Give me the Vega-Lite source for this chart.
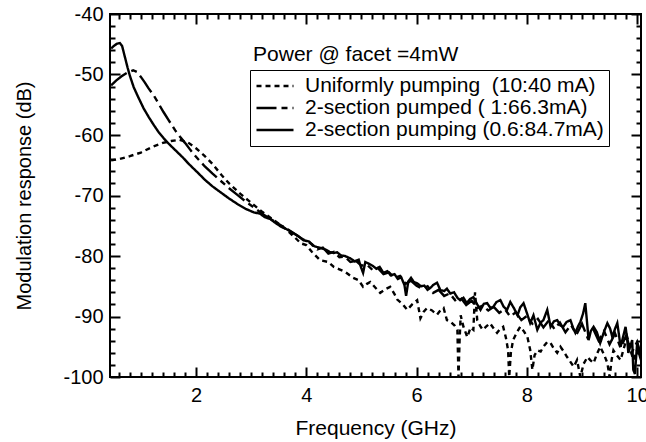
{
 "$schema": "https://vega.github.io/schema/vega-lite/v6.json",
 "width": 531,
 "height": 363,
 "autosize": {"type": "none"},
 "padding": {"left": 110, "top": 14, "right": 5, "bottom": 65},
 "background": "white",
 "config": {
  "view": {"stroke": "black", "strokeWidth": 2},
  "font": "Liberation Sans",
  "axis": {"domain": false, "grid": false, "labelColor": "black", "labelFont": "Liberation Sans", "labelFontSize": 20, "titleFont": "Liberation Sans", "titleFontSize": 20, "titleFontWeight": "normal", "titleColor": "black", "labelFlush": false, "labelOverlap": false, "labelBound": false}
 },
 "datasets": {
  "d": [
   {"s":"U","f":0.46,"r":-64.2},{"s":"U","f":0.6,"r":-64.0},{"s":"U","f":0.8,"r":-63.5},{"s":"U","f":1.0,"r":-62.9},{"s":"U","f":1.2,"r":-62.0},{"s":"U","f":1.4,"r":-61.3},{"s":"U","f":1.55,"r":-61.0},{"s":"U","f":1.7,"r":-60.8},{"s":"U","f":1.85,"r":-61.2},{"s":"U","f":2.0,"r":-62.2},{"s":"U","f":2.15,"r":-63.4},{"s":"U","f":2.3,"r":-64.8},{"s":"U","f":2.47,"r":-66.7},{"s":"U","f":2.6,"r":-68.0},{"s":"U","f":2.8,"r":-69.7},{"s":"U","f":3.0,"r":-71.2},{"s":"U","f":3.2,"r":-72.7},{"s":"U","f":3.4,"r":-74.0},{"s":"U","f":3.6,"r":-75.3},{"s":"U","f":3.8,"r":-77.0},{"s":"U","f":3.9,"r":-77.9},{"s":"U","f":4.0,"r":-78.2},{"s":"U","f":4.1,"r":-79.3},{"s":"U","f":4.25,"r":-80.7},{"s":"U","f":4.4,"r":-81.0},{"s":"U","f":4.5,"r":-81.8},{"s":"U","f":4.6,"r":-82.2},{"s":"U","f":4.7,"r":-82.6},{"s":"U","f":4.85,"r":-83.6},{"s":"U","f":4.95,"r":-84.0},{"s":"U","f":5.03,"r":-85.1},{"s":"U","f":5.1,"r":-84.6},{"s":"U","f":5.16,"r":-84.3},{"s":"U","f":5.25,"r":-85.2},{"s":"U","f":5.34,"r":-86.1},{"s":"U","f":5.43,"r":-85.5},{"s":"U","f":5.52,"r":-85.1},{"s":"U","f":5.6,"r":-86.3},{"s":"U","f":5.65,"r":-87.2},{"s":"U","f":5.75,"r":-88.0},{"s":"U","f":5.83,"r":-88.9},{"s":"U","f":5.92,"r":-88.0},{"s":"U","f":6.01,"r":-87.3},{"s":"U","f":6.07,"r":-90.3},{"s":"U","f":6.13,"r":-89.2},{"s":"U","f":6.19,"r":-88.6},{"s":"U","f":6.28,"r":-89.0},{"s":"U","f":6.37,"r":-89.7},{"s":"U","f":6.43,"r":-89.0},{"s":"U","f":6.49,"r":-88.6},{"s":"U","f":6.55,"r":-90.6},{"s":"U","f":6.62,"r":-90.9},{"s":"U","f":6.69,"r":-91.5},{"s":"U","f":6.74,"r":-92.2},{"s":"U","f":6.76,"r":-100},{"s":"U","f":6.78,"r":-94.0},{"s":"U","f":6.8,"r":-89.8},{"s":"U","f":6.85,"r":-91.7},{"s":"U","f":6.92,"r":-93.4},{"s":"U","f":6.98,"r":-91.8},{"s":"U","f":7.03,"r":-92.2},{"s":"U","f":7.06,"r":-86.0},{"s":"U","f":7.1,"r":-90.6},{"s":"U","f":7.15,"r":-91.5},{"s":"U","f":7.2,"r":-92.2},{"s":"U","f":7.27,"r":-91.6},{"s":"U","f":7.33,"r":-91.1},{"s":"U","f":7.4,"r":-92.0},{"s":"U","f":7.46,"r":-92.7},{"s":"U","f":7.52,"r":-92.0},{"s":"U","f":7.57,"r":-91.7},{"s":"U","f":7.62,"r":-93.5},{"s":"U","f":7.66,"r":-95.6},{"s":"U","f":7.68,"r":-100},{"s":"U","f":7.71,"r":-96.0},{"s":"U","f":7.75,"r":-93.9},{"s":"U","f":7.82,"r":-92.6},{"s":"U","f":7.88,"r":-91.7},{"s":"U","f":7.95,"r":-92.5},{"s":"U","f":8.01,"r":-93.4},{"s":"U","f":8.06,"r":-95.5},{"s":"U","f":8.1,"r":-98.8},{"s":"U","f":8.14,"r":-96.4},{"s":"U","f":8.19,"r":-95.6},{"s":"U","f":8.25,"r":-95.8},{"s":"U","f":8.3,"r":-95.0},{"s":"U","f":8.37,"r":-94.2},{"s":"U","f":8.43,"r":-94.4},{"s":"U","f":8.49,"r":-95.3},{"s":"U","f":8.55,"r":-96.0},{"s":"U","f":8.61,"r":-95.0},{"s":"U","f":8.67,"r":-95.8},{"s":"U","f":8.73,"r":-96.7},{"s":"U","f":8.79,"r":-97.5},{"s":"U","f":8.85,"r":-98.3},{"s":"U","f":8.91,"r":-97.2},{"s":"U","f":8.97,"r":-100},{"s":"U","f":9.03,"r":-97.8},{"s":"U","f":9.1,"r":-96.7},{"s":"U","f":9.15,"r":-97.2},{"s":"U","f":9.21,"r":-97.7},{"s":"U","f":9.27,"r":-96.2},{"s":"U","f":9.33,"r":-95.0},{"s":"U","f":9.4,"r":-96.3},{"s":"U","f":9.46,"r":-97.7},{"s":"U","f":9.5,"r":-100},{"s":"U","f":9.54,"r":-97.0},{"s":"U","f":9.57,"r":-95.6},{"s":"U","f":9.63,"r":-96.4},{"s":"U","f":9.7,"r":-97.2},{"s":"U","f":9.76,"r":-95.2},{"s":"U","f":9.82,"r":-93.4},{"s":"U","f":9.88,"r":-95.5},{"s":"U","f":9.93,"r":-97.2},{"s":"U","f":9.98,"r":-96.0},{"s":"U","f":10.02,"r":-95.0},{"s":"U","f":10.07,"r":-96.5},
   {"s":"P","f":0.46,"r":-51.8},{"s":"P","f":0.55,"r":-51.0},{"s":"P","f":0.65,"r":-50.3},{"s":"P","f":0.75,"r":-49.7},{"s":"P","f":0.86,"r":-49.3},{"s":"P","f":0.93,"r":-49.6},{"s":"P","f":1.0,"r":-50.4},{"s":"P","f":1.07,"r":-51.3},{"s":"P","f":1.14,"r":-52.3},{"s":"P","f":1.23,"r":-53.4},{"s":"P","f":1.32,"r":-54.8},{"s":"P","f":1.41,"r":-56.2},{"s":"P","f":1.5,"r":-57.5},{"s":"P","f":1.62,"r":-59.2},{"s":"P","f":1.71,"r":-60.3},{"s":"P","f":1.8,"r":-61.3},{"s":"P","f":1.9,"r":-62.5},{"s":"P","f":1.98,"r":-63.4},{"s":"P","f":2.07,"r":-64.3},{"s":"P","f":2.16,"r":-65.2},{"s":"P","f":2.3,"r":-66.4},{"s":"P","f":2.45,"r":-67.6},{"s":"P","f":2.6,"r":-68.8},{"s":"P","f":2.75,"r":-69.9},{"s":"P","f":2.9,"r":-71.0},{"s":"P","f":3.05,"r":-72.0},{"s":"P","f":3.2,"r":-73.0},{"s":"P","f":3.35,"r":-73.9},{"s":"P","f":3.5,"r":-74.7},{"s":"P","f":3.65,"r":-75.5},{"s":"P","f":3.8,"r":-76.4},{"s":"P","f":3.95,"r":-77.3},{"s":"P","f":4.1,"r":-78.0},{"s":"P","f":4.2,"r":-78.9},{"s":"P","f":4.3,"r":-78.6},{"s":"P","f":4.4,"r":-79.6},{"s":"P","f":4.5,"r":-79.3},{"s":"P","f":4.6,"r":-80.2},{"s":"P","f":4.7,"r":-80.1},{"s":"P","f":4.8,"r":-81.0},{"s":"P","f":4.9,"r":-80.8},{"s":"P","f":5.0,"r":-81.6},{"s":"P","f":5.1,"r":-81.4},{"s":"P","f":5.2,"r":-82.3},{"s":"P","f":5.3,"r":-82.0},{"s":"P","f":5.4,"r":-83.0},{"s":"P","f":5.5,"r":-82.7},{"s":"P","f":5.6,"r":-83.6},{"s":"P","f":5.7,"r":-83.3},{"s":"P","f":5.8,"r":-84.6},{"s":"P","f":5.9,"r":-84.1},{"s":"P","f":6.0,"r":-84.9},{"s":"P","f":6.1,"r":-85.4},{"s":"P","f":6.2,"r":-85.0},{"s":"P","f":6.3,"r":-86.1},{"s":"P","f":6.4,"r":-85.6},{"s":"P","f":6.5,"r":-86.6},{"s":"P","f":6.6,"r":-86.2},{"s":"P","f":6.7,"r":-87.3},{"s":"P","f":6.8,"r":-86.9},{"s":"P","f":6.9,"r":-88.1},{"s":"P","f":7.0,"r":-87.4},{"s":"P","f":7.1,"r":-88.6},{"s":"P","f":7.2,"r":-88.2},{"s":"P","f":7.3,"r":-89.0},{"s":"P","f":7.4,"r":-88.4},{"s":"P","f":7.5,"r":-89.4},{"s":"P","f":7.6,"r":-88.8},{"s":"P","f":7.7,"r":-90.0},{"s":"P","f":7.8,"r":-89.3},{"s":"P","f":7.9,"r":-90.6},{"s":"P","f":8.0,"r":-89.9},{"s":"P","f":8.1,"r":-91.2},{"s":"P","f":8.2,"r":-90.4},{"s":"P","f":8.3,"r":-91.8},{"s":"P","f":8.4,"r":-90.6},{"s":"P","f":8.5,"r":-92.1},{"s":"P","f":8.6,"r":-91.0},{"s":"P","f":8.7,"r":-92.6},{"s":"P","f":8.8,"r":-91.4},{"s":"P","f":8.9,"r":-93.0},{"s":"P","f":9.0,"r":-91.2},{"s":"P","f":9.1,"r":-93.5},{"s":"P","f":9.2,"r":-92.0},{"s":"P","f":9.3,"r":-94.0},{"s":"P","f":9.4,"r":-92.4},{"s":"P","f":9.5,"r":-94.6},{"s":"P","f":9.6,"r":-92.8},{"s":"P","f":9.7,"r":-95.2},{"s":"P","f":9.8,"r":-93.2},{"s":"P","f":9.9,"r":-96.0},{"s":"P","f":10.0,"r":-94.2},{"s":"P","f":10.07,"r":-96.5},
   {"s":"S","f":0.46,"r":-45.7},{"s":"S","f":0.52,"r":-45.2},{"s":"S","f":0.57,"r":-44.9},{"s":"S","f":0.62,"r":-44.8},{"s":"S","f":0.66,"r":-45.3},{"s":"S","f":0.71,"r":-47.1},{"s":"S","f":0.76,"r":-48.9},{"s":"S","f":0.8,"r":-50.2},{"s":"S","f":0.87,"r":-52.1},{"s":"S","f":0.95,"r":-53.7},{"s":"S","f":1.05,"r":-55.6},{"s":"S","f":1.14,"r":-57.0},{"s":"S","f":1.23,"r":-58.3},{"s":"S","f":1.32,"r":-59.5},{"s":"S","f":1.41,"r":-60.5},{"s":"S","f":1.5,"r":-61.4},{"s":"S","f":1.59,"r":-62.2},{"s":"S","f":1.68,"r":-63.0},{"s":"S","f":1.77,"r":-63.8},{"s":"S","f":1.86,"r":-64.7},{"s":"S","f":1.95,"r":-65.5},{"s":"S","f":2.04,"r":-66.3},{"s":"S","f":2.16,"r":-67.4},{"s":"S","f":2.3,"r":-68.5},{"s":"S","f":2.45,"r":-69.5},{"s":"S","f":2.6,"r":-70.5},{"s":"S","f":2.75,"r":-71.4},{"s":"S","f":2.9,"r":-72.2},{"s":"S","f":3.05,"r":-72.8},{"s":"S","f":3.16,"r":-73.0},{"s":"S","f":3.25,"r":-73.6},{"s":"S","f":3.35,"r":-73.9},{"s":"S","f":3.45,"r":-74.6},{"s":"S","f":3.55,"r":-75.2},{"s":"S","f":3.65,"r":-75.6},{"s":"S","f":3.76,"r":-76.2},{"s":"S","f":3.85,"r":-76.7},{"s":"S","f":3.95,"r":-77.4},{"s":"S","f":4.05,"r":-77.6},{"s":"S","f":4.12,"r":-78.3},{"s":"S","f":4.19,"r":-78.5},{"s":"S","f":4.27,"r":-78.7},{"s":"S","f":4.34,"r":-78.9},{"s":"S","f":4.42,"r":-79.3},{"s":"S","f":4.49,"r":-79.5},{"s":"S","f":4.56,"r":-79.4},{"s":"S","f":4.63,"r":-79.9},{"s":"S","f":4.7,"r":-80.0},{"s":"S","f":4.8,"r":-80.4},{"s":"S","f":4.88,"r":-80.9},{"s":"S","f":4.95,"r":-80.6},{"s":"S","f":4.99,"r":-81.8},{"s":"S","f":5.03,"r":-82.8},{"s":"S","f":5.07,"r":-81.0},{"s":"S","f":5.14,"r":-81.3},{"s":"S","f":5.2,"r":-81.6},{"s":"S","f":5.27,"r":-82.1},{"s":"S","f":5.33,"r":-81.8},{"s":"S","f":5.4,"r":-82.8},{"s":"S","f":5.47,"r":-82.5},{"s":"S","f":5.53,"r":-83.2},{"s":"S","f":5.6,"r":-83.0},{"s":"S","f":5.66,"r":-83.8},{"s":"S","f":5.72,"r":-83.5},{"s":"S","f":5.78,"r":-84.8},{"s":"S","f":5.81,"r":-86.6},{"s":"S","f":5.85,"r":-84.2},{"s":"S","f":5.9,"r":-83.6},{"s":"S","f":5.95,"r":-84.3},{"s":"S","f":6.01,"r":-84.5},{"s":"S","f":6.08,"r":-85.0},{"s":"S","f":6.14,"r":-84.9},{"s":"S","f":6.2,"r":-85.6},{"s":"S","f":6.26,"r":-85.2},{"s":"S","f":6.3,"r":-84.8},{"s":"S","f":6.37,"r":-84.4},{"s":"S","f":6.43,"r":-85.6},{"s":"S","f":6.5,"r":-85.8},{"s":"S","f":6.55,"r":-85.4},{"s":"S","f":6.61,"r":-86.2},{"s":"S","f":6.68,"r":-86.0},{"s":"S","f":6.74,"r":-86.9},{"s":"S","f":6.79,"r":-87.3},{"s":"S","f":6.85,"r":-86.9},{"s":"S","f":6.91,"r":-87.8},{"s":"S","f":6.97,"r":-87.1},{"s":"S","f":7.03,"r":-86.8},{"s":"S","f":7.1,"r":-88.0},{"s":"S","f":7.16,"r":-88.9},{"s":"S","f":7.22,"r":-87.9},{"s":"S","f":7.28,"r":-87.8},{"s":"S","f":7.34,"r":-88.6},{"s":"S","f":7.39,"r":-88.4},{"s":"S","f":7.45,"r":-87.6},{"s":"S","f":7.52,"r":-87.3},{"s":"S","f":7.58,"r":-88.4},{"s":"S","f":7.64,"r":-88.9},{"s":"S","f":7.7,"r":-87.6},{"s":"S","f":7.77,"r":-88.7},{"s":"S","f":7.83,"r":-89.8},{"s":"S","f":7.88,"r":-88.5},{"s":"S","f":7.94,"r":-87.8},{"s":"S","f":8.0,"r":-89.4},{"s":"S","f":8.06,"r":-91.1},{"s":"S","f":8.12,"r":-89.8},{"s":"S","f":8.19,"r":-92.2},{"s":"S","f":8.25,"r":-91.0},{"s":"S","f":8.3,"r":-90.6},{"s":"S","f":8.37,"r":-88.9},{"s":"S","f":8.43,"r":-91.7},{"s":"S","f":8.49,"r":-90.8},{"s":"S","f":8.55,"r":-90.6},{"s":"S","f":8.61,"r":-91.5},{"s":"S","f":8.66,"r":-91.7},{"s":"S","f":8.72,"r":-90.9},{"s":"S","f":8.79,"r":-90.6},{"s":"S","f":8.84,"r":-91.9},{"s":"S","f":8.88,"r":-92.7},{"s":"S","f":8.93,"r":-91.6},{"s":"S","f":8.97,"r":-90.9},{"s":"S","f":9.02,"r":-89.5},{"s":"S","f":9.06,"r":-87.8},{"s":"S","f":9.09,"r":-90.8},{"s":"S","f":9.12,"r":-93.9},{"s":"S","f":9.16,"r":-92.4},{"s":"S","f":9.21,"r":-91.7},{"s":"S","f":9.27,"r":-92.6},{"s":"S","f":9.33,"r":-94.4},{"s":"S","f":9.4,"r":-92.5},{"s":"S","f":9.46,"r":-91.1},{"s":"S","f":9.51,"r":-92.0},{"s":"S","f":9.55,"r":-93.4},{"s":"S","f":9.6,"r":-92.0},{"s":"S","f":9.64,"r":-91.1},{"s":"S","f":9.67,"r":-93.0},{"s":"S","f":9.7,"r":-95.0},{"s":"S","f":9.75,"r":-93.2},{"s":"S","f":9.79,"r":-91.7},{"s":"S","f":9.82,"r":-93.8},{"s":"S","f":9.84,"r":-96.0},{"s":"S","f":9.88,"r":-94.8},{"s":"S","f":9.91,"r":-93.9},{"s":"S","f":9.93,"r":-98.8},{"s":"S","f":9.96,"r":-99.5},{"s":"S","f":10.0,"r":-94.4},{"s":"S","f":10.03,"r":-96.0},{"s":"S","f":10.07,"r":-97.2}
  ]
 },
 "data": {"name": "d"},
 "layer": [
  {
   "mark": {"type": "line", "color": "black", "strokeWidth": 2.4, "clip": true},
   "encoding": {
    "x": {"field": "f", "type": "quantitative", "scale": {"domain": [0.44, 10.07], "nice": false, "zero": false},
          "axis": {"orient": "bottom", "values": [0.6,0.8,1,1.2,1.4,1.6,1.8,2,2.2,2.4,2.6,2.8,3,3.2,3.4,3.6,3.8,4,4.2,4.4,4.6,4.8,5,5.2,5.4,5.6,5.8,6,6.2,6.4,6.6,6.8,7,7.2,7.4,7.6,7.8,8,8.2,8.4,8.6,8.8,9,9.2,9.4,9.6,9.8,10],
                   "ticks": true, "tickColor": "#000000", "tickWidth": 2, "tickOpacity": 1,
                   "tickSize": {"condition": {"test": "datum.value % 2 == 0", "value": -10}, "value": -5},
                   "labelPadding": 18, "labelExpr": "datum.value % 2 == 0 ? datum.value + '' : ''",
                   "title": "Frequency (GHz)", "titleFontSize": 21, "titlePadding": 7}},
    "y": {"field": "r", "type": "quantitative", "scale": {"domain": [-100, -40], "nice": false, "zero": false},
          "axis": {"orient": "left", "values": [-100,-98,-96,-94,-92,-90,-88,-86,-84,-82,-80,-78,-76,-74,-72,-70,-68,-66,-64,-62,-60,-58,-56,-54,-52,-50,-48,-46,-44,-42,-40],
                   "ticks": true, "tickColor": "#000000", "tickWidth": 2, "tickOpacity": 1,
                   "tickSize": {"condition": {"test": "datum.value % 10 == 0", "value": -10}, "value": -5},
                   "labelPadding": 17, "labelExpr": "datum.value % 10 == 0 ? datum.value + '' : ''",
                   "title": "Modulation response (dB)", "titlePadding": 28}},
    "strokeDash": {"field": "s", "type": "nominal",
                   "scale": {"domain": ["U", "P", "S"], "range": [[5, 4], [20, 5, 6, 5], [1, 0]]},
                   "legend": {"orient": "none", "legendX": 140, "legendY": 56, "title": null, "strokeColor": "black", "fillColor": "white", "padding": 5, "symbolType": "stroke", "symbolSize": 1369, "symbolStrokeWidth": 2.4, "symbolStrokeColor": "black", "clipHeight": 22, "rowPadding": 0, "labelFontSize": 21, "labelFont": "Liberation Sans", "labelColor": "black", "labelOffset": 10, "labelLimit": 500,
                              "labelExpr": "datum.value == 'U' ? '\u00a0Uniformly pumping\u00a0 (10:40 mA)' : datum.value == 'P' ? '2-section pumped ( 1:66.3mA)' : '2-section pumping (0.6:84.7mA)'"}}
   }
  },
  {
   "mark": {"type": "point", "opacity": 0},
   "encoding": {
    "x": {"field": "f", "type": "quantitative", "scale": {"domain": [0.44, 10.07], "nice": false, "zero": false},
          "axis": {"orient": "top", "values": [0.6,0.8,1,1.2,1.4,1.6,1.8,2,2.2,2.4,2.6,2.8,3,3.2,3.4,3.6,3.8,4,4.2,4.4,4.6,4.8,5,5.2,5.4,5.6,5.8,6,6.2,6.4,6.6,6.8,7,7.2,7.4,7.6,7.8,8,8.2,8.4,8.6,8.8,9,9.2,9.4,9.6,9.8,10],
                   "ticks": true, "tickColor": "#000000", "tickWidth": 2, "tickOpacity": 1,
                   "tickSize": {"condition": {"test": "datum.value % 2 == 0", "value": -10}, "value": -5}, "labels": false, "title": null}},
    "y": {"field": "r", "type": "quantitative", "scale": {"domain": [-100, -40], "nice": false, "zero": false},
          "axis": {"orient": "right", "values": [-100,-98,-96,-94,-92,-90,-88,-86,-84,-82,-80,-78,-76,-74,-72,-70,-68,-66,-64,-62,-60,-58,-56,-54,-52,-50,-48,-46,-44,-42,-40],
                   "ticks": true, "tickColor": "#000000", "tickWidth": 2, "tickOpacity": 1,
                   "tickSize": {"condition": {"test": "datum.value % 10 == 0", "value": -10}, "value": -5}, "labels": false, "title": null}}
   }
  },
  {
   "data": {"values": [{"t": "Power @ facet =4mW"}]},
   "mark": {"type": "text", "align": "left", "baseline": "alphabetic", "fontSize": 21, "font": "Liberation Sans", "color": "black"},
   "encoding": {
    "x": {"datum": 3.035, "type": "quantitative", "axis": {"orient": "bottom", "ticks": false, "labels": false, "domain": false, "title": null, "values": [2]}},
    "y": {"datum": -47.77, "type": "quantitative", "axis": {"orient": "left", "ticks": false, "labels": false, "domain": false, "title": null, "values": [-50]}},
    "text": {"field": "t", "type": "nominal"}
   }
  }
 ],
 "resolve": {"axis": {"x": "independent", "y": "independent"}}
}
